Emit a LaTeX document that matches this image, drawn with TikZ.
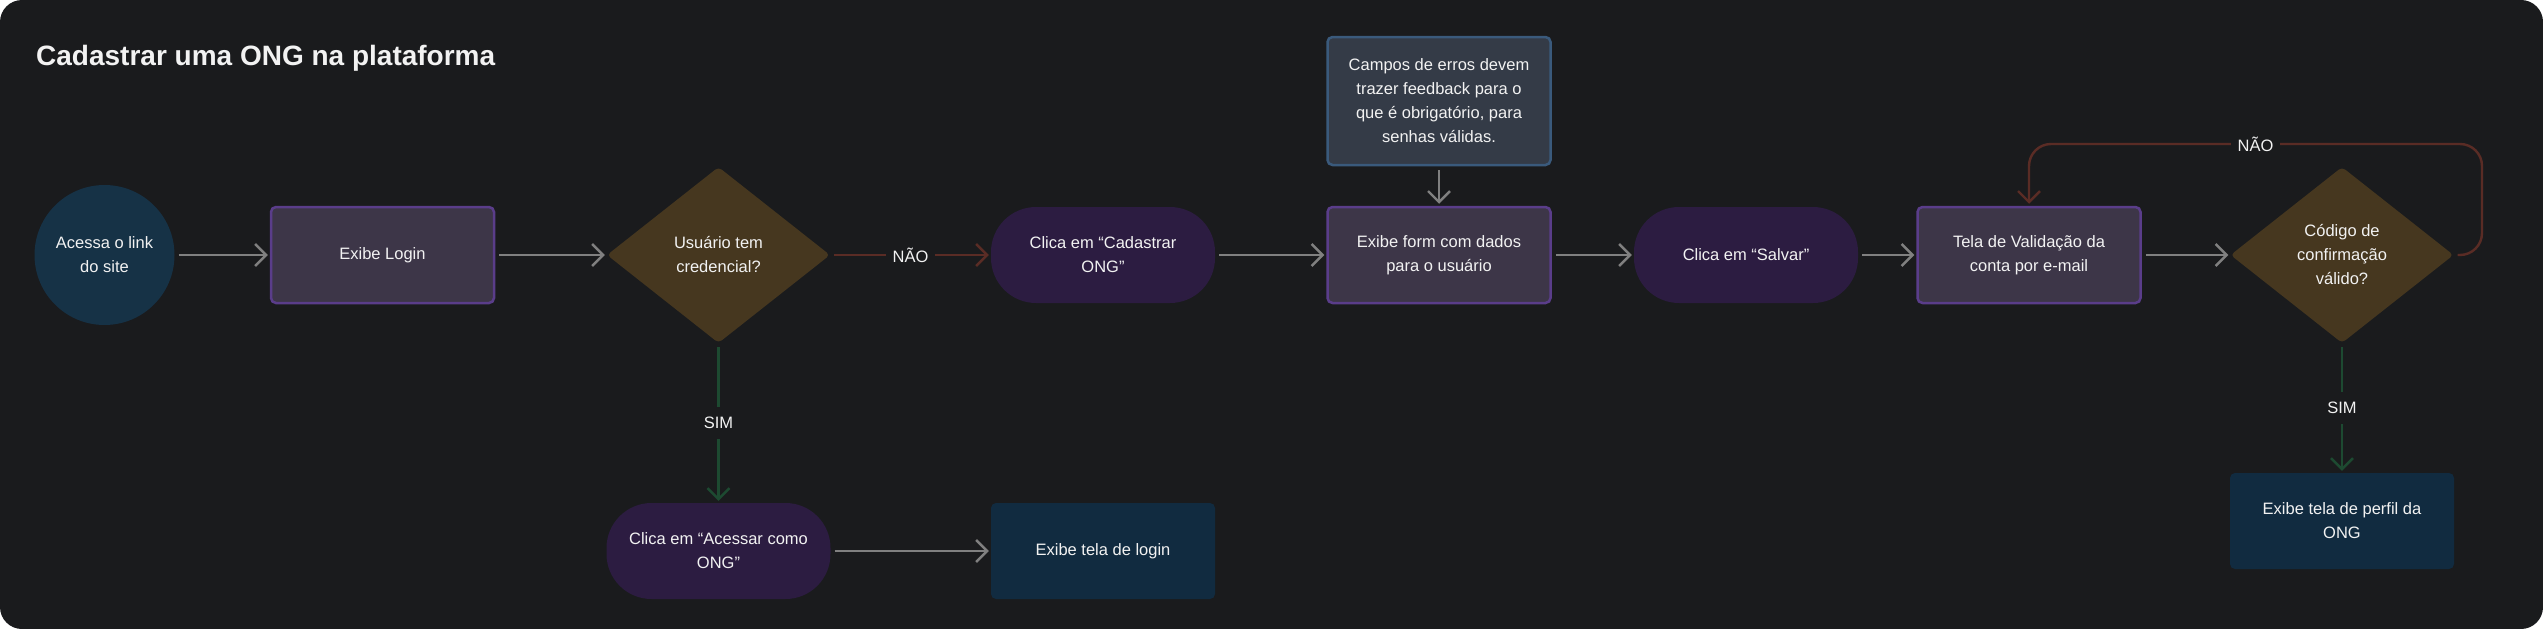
\documentclass[tikz,border=0pt]{standalone}
\usepackage{fontspec}
\setmainfont{Liberation Sans}
\usetikzlibrary{arrows.meta,shapes.geometric,calc}
\definecolor{fundo}{HTML}{1A1B1D}
\definecolor{textoClaro}{HTML}{F2F2F2}
\definecolor{inicioAzul}{HTML}{163246}
\definecolor{telaRoxo}{HTML}{3D3648}
\definecolor{telaBorda}{HTML}{5A3D8A}
\definecolor{acaoRoxo}{HTML}{2C1C41}
\definecolor{decisaoMarrom}{HTML}{46371F}
\definecolor{notaCinza}{HTML}{343B47}
\definecolor{notaBorda}{HTML}{3A5A7C}
\definecolor{fimAzul}{HTML}{112B40}
\definecolor{setaCinza}{HTML}{808080}
\definecolor{naoVermelho}{HTML}{5A2C25}
\definecolor{simVerde}{HTML}{1D4A31}
\tikzset{
  texto/.style={text=textoClaro, font=\fontsize{16.5}{24}\selectfont, align=center},
  titulo/.style={text=textoClaro, font=\fontsize{28}{32}\selectfont\bfseries, inner sep=0pt},
  inicio/.style={texto, circle, fill=inicioAzul, minimum size=140pt, inner sep=0pt},
  tela/.style={texto, rectangle, rounded corners=5pt, fill=telaRoxo, draw=telaBorda, line width=2.5pt,
    minimum width=223pt, minimum height=96pt},
  acao/.style={texto, rectangle, rounded corners=45pt, fill=acaoRoxo, minimum width=224pt, minimum height=96pt},
  decisao/.style={texto, diamond, rounded corners=4pt, fill=decisaoMarrom, minimum width=223pt,
    minimum height=176pt, inner sep=0pt},
  nota/.style={texto, rectangle, rounded corners=5pt, fill=notaCinza, draw=notaBorda, line width=2.5pt,
    minimum width=223pt, minimum height=128pt},
  fim/.style={texto, rectangle, rounded corners=5pt, fill=fimAzul, minimum width=224pt, minimum height=96pt},
  seta/.style={draw=setaCinza, line width=2.4pt, -{Straight Barb[length=11pt,width=22pt]},
    shorten >=2pt, shorten <=4pt},
  setaNao/.style={seta, draw=naoVermelho},
  setaSim/.style={seta, draw=simVerde},
  rotulo/.style={texto, fill=fundo, inner xsep=7pt, inner ysep=10pt}
}
\begin{document}
\begin{tikzpicture}[x=1pt, y=-1pt]
  \fill[white] (0,0) rectangle (2543,629);
  \fill[fundo, rounded corners=22pt] (0,0) rectangle (2543,629);
  \node[titulo, anchor=base west] (titulo) at (36,65) {Cadastrar uma ONG na plataforma};

  \node[inicio] (acessa) at (104.5,255) {Acessa o link\\do site};
  \node[tela] (login) at (382.5,255) {Exibe Login};
  \node[decisao] (credencial) at (718.5,255) {Usuário tem\\credencial?};
  \node[acao] (cadastrar) at (1103,255) {Clica em “Cadastrar\\ONG”};
  \node[nota] (campos) at (1439,101) {Campos de erros devem\\trazer feedback para o\\que é obrigatório, para\\senhas válidas.};
  \node[tela] (form) at (1439,255) {Exibe form com dados\\para o usuário};
  \node[acao] (salvar) at (1746,255) {Clica em “Salvar”};
  \node[tela] (validacao) at (2029,255) {Tela de Validação da\\conta por e-mail};
  \node[decisao] (codigo) at (2342,255) {Código de\\confirmação\\válido?};
  \node[acao] (acessar) at (718.5,551) {Clica em “Acessar como\\ONG”};
  \node[fim] (telaLogin) at (1103,551) {Exibe tela de login};
  \node[fim] (perfil) at (2342,521) {Exibe tela de perfil da\\ONG};
  \coordinate (retorno) at (2482,144);

  \draw[seta] (acessa) -- (login);
  \draw[seta] (login) -- (credencial);
  \draw[setaNao] (credencial) -- node[rotulo] {NÃO} (cadastrar);
  \draw[seta] (cadastrar) -- (form);
  \draw[seta] (campos) -- (form);
  \draw[seta] (form) -- (salvar);
  \draw[seta] (salvar) -- (validacao);
  \draw[seta] (validacao) -- (codigo);
  \draw[setaNao, rounded corners=22pt] (codigo.east) -| (retorno) -| (validacao.north);
  \node[rotulo] (naoRetorno) at ($(retorno)!0.5!(validacao.north |- retorno)$) {NÃO};
  \draw[setaSim] (credencial) -- node[rotulo] {SIM} (acessar);
  \draw[seta] (acessar) -- (telaLogin);
  \draw[setaSim] (codigo) -- node[rotulo] {SIM} (perfil);
\end{tikzpicture}
\end{document}
